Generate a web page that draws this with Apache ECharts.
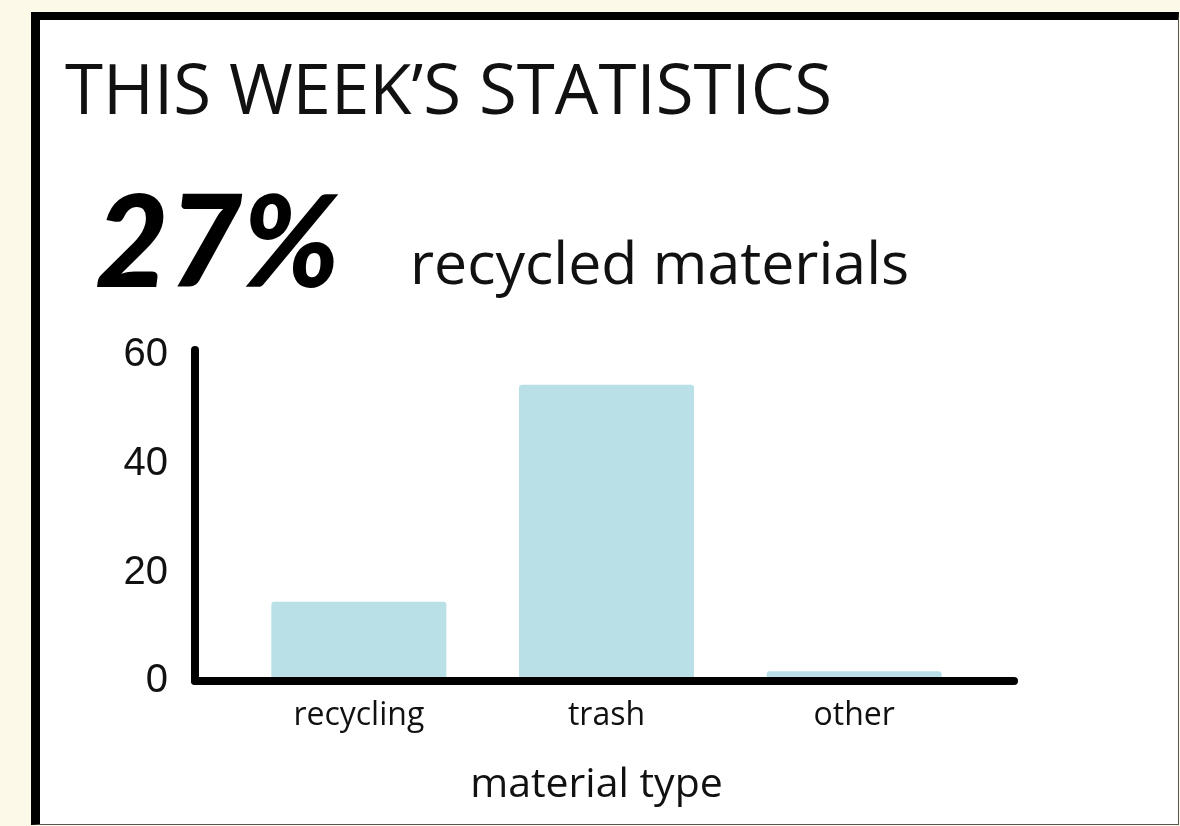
<!DOCTYPE html>
<html><head><meta charset="utf-8">
<script src="https://cdn.jsdelivr.net/npm/echarts@6/dist/echarts.min.js"></script>
<style>
html,body{margin:0;padding:0;width:1180px;height:826px;overflow:hidden;background:#FDF9E8;}
#frame{position:absolute;left:31px;top:12px;width:1148px;height:813px;background:#fff;border-left:9px solid #000;border-top:8px solid #000;border-right:1px solid #555;border-bottom:1px solid #555;box-sizing:border-box;}
#chart{position:absolute;left:0;top:0;width:1180px;height:826px;}
</style></head><body>
<div id="frame"></div><div id="chart"></div>
<script>
const categories = ['recycling', 'trash', 'other'];
const values = [14.6, 54.6, 1.8];
const yTicks = [0, 20, 40, 60];
const titleText = 'THIS WEEK’S STATISTICS';
const headlineValue = '27%';
const headlineLabel = 'recycled materials';
const xAxisName = 'material type';

const chart = echarts.init(document.getElementById('chart'), null, {renderer: 'canvas'});
const FONT = '"Open Sans", "Noto Sans", sans-serif';
const axisLineStyle = {color: '#000', width: 8, cap: 'round'};
chart.setOption({
  backgroundColor: 'transparent',
  animation: false,
  graphic: [
    {type: 'text', x: 65, y: 94, style: {text: titleText, font: '400 69px ' + FONT, fill: '#111', verticalAlign: 'middle'}},
    {type: 'text', x: 95, y: 246, style: {text: headlineValue, font: 'italic 900 127px Lato, sans-serif', fill: '#000', verticalAlign: 'middle'}},
    {type: 'text', x: 410, y: 267, style: {text: headlineLabel, font: '400 59px ' + FONT, fill: '#111', verticalAlign: 'middle'}}
  ],
  grid: [
    {left: 235, right: 202, top: 350, bottom: 145},
    {left: 195, right: 166, top: 350, bottom: 145}
  ],
  xAxis: [
    {type: 'category', gridIndex: 0, data: categories,
     axisLine: {show: false}, axisTick: {show: false}, splitLine: {show: false},
     axisLabel: {fontSize: 32, fontFamily: FONT, color: '#111', margin: 19},
     name: xAxisName, nameLocation: 'middle', nameGap: 84,
     nameTextStyle: {fontSize: 41, fontFamily: FONT, color: '#111', padding: [0, 20, 0, 0]}},
    {type: 'value', gridIndex: 1, min: 0, max: 1, z: 5,
     axisLine: {show: true, lineStyle: axisLineStyle},
     axisTick: {show: false}, axisLabel: {show: false}, splitLine: {show: false}}
  ],
  yAxis: [
    {type: 'value', gridIndex: 0, min: 0, max: 61, show: false, splitLine: {show: false}},
    {type: 'value', gridIndex: 1, min: 0, max: 61, interval: 20, z: 5,
     axisLine: {show: true, lineStyle: axisLineStyle},
     axisTick: {show: false}, splitLine: {show: false},
     axisLabel: {fontSize: 40, fontFamily: '"Liberation Sans", Arial, sans-serif', color: '#111', margin: 27,
       formatter: v => yTicks.includes(v) ? String(v) : ''}}
  ],
  series: [{
    type: 'bar', xAxisIndex: 0, yAxisIndex: 0, data: values, barWidth: 175,
    itemStyle: {color: '#B8E0E6', borderRadius: [3, 3, 0, 0]}
  }]
});
</script></body></html>
